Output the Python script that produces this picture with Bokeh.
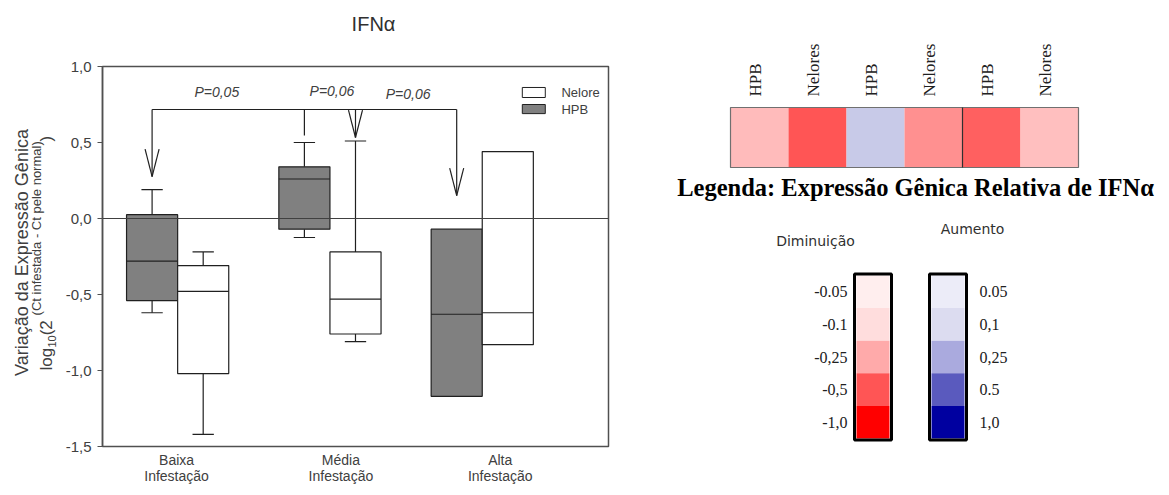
import numpy as np
from bokeh.plotting import figure
from bokeh.models import Range1d, Span, FixedTicker
from bokeh.layouts import row, column
from bokeh.embed import file_html
from bokeh.resources import INLINE
from bokeh.core.properties import value

# ---------------- data ----------------
title = "IFNα"
groups = ["Baixa\nInfestação", "Média\nInfestação", "Alta\nInfestação"]
series = ["Nelore", "HPB"]

hpb_q1 = [-0.54, -0.07, -1.17]
hpb_med = [-0.28, 0.26, -0.63]
hpb_q3 = [0.025, 0.34, -0.07]
hpb_low = [-0.62, -0.125, None]
hpb_high = [0.19, 0.50, None]

nel_q1 = [-1.02, -0.76, -0.83]
nel_med = [-0.48, -0.53, -0.62]
nel_q3 = [-0.31, -0.22, 0.44]
nel_low = [-1.42, -0.81, None]
nel_high = [-0.22, 0.51, None]

y_ticks = [-1.5, -1.0, -0.5, 0.0, 0.5, 1.0]
y_tick_labels = ["-1,5", "-1,0", "-0,5", "0,0", "0,5", "1,0"]

p_labels = ["P=0,05", "P=0,06", "P=0,06"]

heat_labels = ["HPB", "Nelores", "HPB", "Nelores", "HPB", "Nelores"]
heat_colors = ["#FFBBBB", "#FF5555", "#C8CAE8", "#FF9090", "#FF6060", "#FFBFBF"]

dim_labels = ["-0.05", "-0.1", "-0,25", "-0,5", "-1,0"]
dim_colors = ["#FFEEEE", "#FFDDDD", "#FFAAAA", "#FF5555", "#FF0000"]
aum_labels = ["0.05", "0,1", "0,25", "0.5", "1,0"]
aum_colors = ["#ECECF8", "#DCDCF0", "#AAAADE", "#5A5ABE", "#0000A0"]

SANS = "Liberation Sans"
SERIF = "Liberation Serif"
TXT = "#404040"
H = 492
TH = 44  # title strip height


def blank(w, h, x0, x1, y0, y1):
    f = figure(width=w, height=h, x_range=Range1d(x0, x1), y_range=Range1d(y1, y0),
               output_backend="svg", toolbar_location=None, x_axis_location=None,
               y_axis_location=None, min_border=0, title=None)
    f.grid.visible = False
    f.outline_line_color = None
    return f


# ---------------- y-axis title strip ----------------
s = blank(58, H, 0, 58, 0, H)
s.text([21], [252], text=["Variação da Expressão Gênica"], angle=np.pi / 2,
       text_font=value(SANS), text_font_size="18px", text_color=TXT,
       text_align="center", text_baseline="middle")
parts = ["log", "10", " (2", "(Ct infestada - Ct pele normal)", ")"]
part_size = ["17px", "11px", "17px", "13px", "17px"]
part_cx = [46, 51, 46, 36, 46]
part_width = [23.0, 12.2, 19.9, 174.0, 5.7]
part_start = 370 - np.concatenate([[0], np.cumsum(part_width)[:-1]])
for tx, fs, cx, y0 in zip(parts, part_size, part_cx, part_start):
    s.text([cx], [y0], text=[tx], angle=np.pi / 2, text_font=value(SANS),
           text_font_size=fs, text_color=TXT, text_align="left", text_baseline="middle")

# ---------------- title strip ----------------
t = blank(590, TH, 58, 648, 0, TH)
t.text([374], [23], text=[title], text_font=value(SANS), text_font_size="20px",
       text_color="#303030", text_align="center", text_baseline="middle")

# ---------------- box plot ----------------
p = figure(width=590, height=H - TH, x_range=Range1d(0.5066, 3.829), y_range=Range1d(-1.5, 1.0),
           output_backend="svg", toolbar_location=None, title=None,
           min_border_left=44, min_border_right=40, min_border_top=66 - TH,
           min_border_bottom=H - 446)
p.grid.visible = False
p.outline_line_color = "#505050"
p.outline_line_width = 1.5

ax = p.yaxis[0]
ax.ticker = FixedTicker(ticks=y_ticks)
ax.major_label_overrides = {tk: lb for tk, lb in zip(y_ticks, y_tick_labels)}
ax.major_tick_out = 5
ax.major_tick_in = 0
ax.minor_tick_line_color = None
ax.major_tick_line_color = "#505050"
ax.axis_line_color = "#505050"
ax.axis_line_width = 1.5
ax.major_label_text_font = SANS
ax.major_label_text_font_size = "15px"
ax.major_label_text_color = TXT
ax.major_label_standoff = 6

gl_pos = [0.993, 2.072, 3.118]
xa = p.xaxis[0]
xa.ticker = FixedTicker(ticks=gl_pos)
xa.major_label_overrides = {tk: g for tk, g in zip(gl_pos, groups)}
xa.major_tick_line_color = None
xa.minor_tick_line_color = None
xa.axis_line_color = None
xa.major_label_text_font = SANS
xa.major_label_text_font_size = "14px"
xa.major_label_text_color = TXT
xa.major_label_text_line_height = 1.0
xa.major_label_standoff = -1

gx = np.arange(1, len(groups) + 1)
bw = 0.3355
cap = 0.07


def draw_boxes(centers, q1, med, q3, low, high, fill):
    xs0, ys0, xs1, ys1 = [], [], [], []
    for c, a, b, lo, hi in zip(centers, q1, q3, low, high):
        if hi is not None:
            xs0 += [c, c - cap]; ys0 += [b, hi]; xs1 += [c, c + cap]; ys1 += [hi, hi]
        if lo is not None:
            xs0 += [c, c - cap]; ys0 += [a, lo]; xs1 += [c, c + cap]; ys1 += [lo, lo]
    p.segment(xs0, ys0, xs1, ys1, line_color="#202020", line_width=1.2)
    p.quad(left=centers - bw / 2, right=centers + bw / 2, bottom=q1, top=q3,
           fill_color=fill, line_color="#202020", line_width=1.2)
    p.segment(centers - bw / 2, med, centers + bw / 2, med, line_color="#202020", line_width=1.2)


hpb_c = gx - bw / 2
nel_c = gx + bw / 2
draw_boxes(hpb_c, hpb_q1, hpb_med, hpb_q3, hpb_low, hpb_high, "#808080")
draw_boxes(nel_c, nel_q1, nel_med, nel_q3, nel_low, nel_high, "white")

p.add_layout(Span(location=0, dimension="width", line_color="#404040", line_width=1.2))

# significance bracket
br_y = 0.717
br_x = [hpb_c[0], hpb_c[1], nel_c[1], hpb_c[2]]
br_end = [0.276, 0.546, 0.533, 0.151]
br_arrow = [True, False, True, True]
p.segment([br_x[0]], [br_y], [br_x[-1]], [br_y], line_color="#202020", line_width=1.2)
p.segment(br_x, [br_y] * 4, br_x, br_end, line_color="#202020", line_width=1.2)
a_x0, a_y0, a_x1, a_y1 = [], [], [], []
for xx, ye, a in zip(br_x, br_end, br_arrow):
    if a:
        a_x0 += [xx - 0.046, xx + 0.046]; a_y0 += [ye + 0.18, ye + 0.18]
        a_x1 += [xx, xx]; a_y1 += [ye, ye]
p.segment(a_x0, a_y0, a_x1, a_y1, line_color="#202020", line_width=1.2)

p_x = [1.257, 2.013, 2.513]
p_y = [0.829, 0.842, 0.822]
p.text(p_x, p_y, text=p_labels, text_font=value(SANS), text_font_style="italic",
       text_font_size="14px", text_color=TXT, text_align="center", text_baseline="middle")

# legend
p.quad(left=[3.263] * 2, right=[3.414] * 2, bottom=[0.796, 0.69], top=[0.862, 0.75],
       fill_color=["white", "#808080"], line_color="#202020", line_width=1)
p.text([3.52] * 2, [0.829, 0.72], text=series, text_font=value(SANS),
       text_font_size="13px", text_color=TXT, text_align="left", text_baseline="middle")

# ---------------- heatmap + colour legend ----------------
q = blank(518, H, 648, 1166, 0, H)

hx0, hw, hy0, hy1 = 730, 58, 107, 167
hcx = hx0 + hw * (np.arange(len(heat_colors)) + 0.5)
q.rect(x=hcx, y=[(hy0 + hy1) / 2] * len(hcx), width=hw, height=hy1 - hy0,
       fill_color=heat_colors, line_color=None)
q.quad(left=[hx0], right=[hx0 + hw * len(heat_colors)], top=[hy0], bottom=[hy1],
       fill_color=None, line_color="#707070", line_width=1.2)
q.segment([hx0 + 4 * hw], [hy0], [hx0 + 4 * hw], [hy1], line_color="#303030", line_width=1.2)
q.text(hcx - 4, [96] * len(hcx), text=heat_labels, angle=np.pi / 2, text_font=value(SERIF),
       text_font_size="17px", text_color="#202020", text_align="left", text_baseline="middle")

q.text([915], [187], text=["Legenda: Expressão Gênica Relativa de IFNα"], text_font=value(SERIF),
       text_font_style="bold", text_font_size="24.5px", text_color="black",
       text_align="center", text_baseline="middle")
q.text([815, 972], [240, 228], text=["Diminuição", "Aumento"], text_font=value("DejaVu Sans"),
       text_font_size="14px", text_color="#303030", text_align="center", text_baseline="middle")

cb_top, cb_h = 275, 32.6
cy = cb_top + cb_h * (np.arange(5) + 0.5)
for cxl, cols, labs, lx, al in [(872.5, dim_colors, dim_labels, 847, "right"),
                                (947.5, aum_colors, aum_labels, 979, "left")]:
    q.rect(x=[cxl] * 5, y=cy, width=33, height=cb_h, fill_color=cols, line_color=None)
    q.quad(left=[cxl - 18.5], right=[cxl + 18.5], top=[cb_top - 1.5], bottom=[cb_top + 5 * cb_h + 1.5],
           fill_color=None, line_color="black", line_width=3)
    q.text([lx] * 5, cy, text=labs, text_font=value(SERIF), text_font_size="16px",
           text_color="#202020", text_align=al, text_baseline="middle")

layout = row(column(s), column(t, p), column(q))
open("out.html", "w").write(file_html(layout, INLINE))
